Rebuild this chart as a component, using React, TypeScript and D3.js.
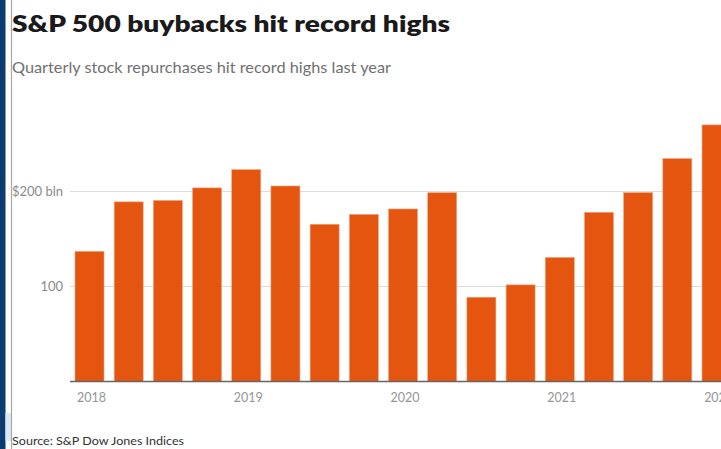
import React from "react";
import * as d3 from "d3";

const quarters = [
  "2017 Q4", "2018 Q1", "2018 Q2", "2018 Q3", "2018 Q4",
  "2019 Q1", "2019 Q2", "2019 Q3", "2019 Q4",
  "2020 Q1", "2020 Q2", "2020 Q3", "2020 Q4",
  "2021 Q1", "2021 Q2", "2021 Q3", "2021 Q4",
];
const buybacks = [
  137.0, 189.1, 190.6, 203.8, 223.0,
  205.8, 165.5, 175.9, 181.6,
  198.7, 88.7, 101.7, 130.6,
  178.1, 198.8, 234.6, 270.1,
];
const yTicks = [100, 200];
const yTickLabels = ["100", "$200 bln"];
const yearTicks = ["2018 Q1", "2019 Q1", "2020 Q1", "2021 Q1", "2022 Q1"];
const yearLabels = ["2018", "2019", "2020", "2021", "2022"];

const W = 721;
const H = 449;
const FONT = "Lato, 'Open Sans', sans-serif";

export default function App() {
  const allQuarters = [...quarters, "2022 Q1"];
  const x = d3
    .scaleBand<string>()
    .domain(allQuarters)
    .range([69.9, 69.9 + 39.19 * 18])
    .paddingInner(0.26)
    .paddingOuter(0.13);
  const y = d3.scaleLinear().domain([0, 200]).range([381.5, 191.5]);
  const gap = x.step() - x.bandwidth();

  return (
    <svg
      width={W}
      height={H}
      style={{ position: "absolute", left: 0, top: 0, background: "#fff" }}
    >
      <rect x={0} y={0} width={W} height={H} fill="#fff" />
      {/* left frame */}
      <rect x={0} y={0} width={5.5} height={H} fill="#0b3b70" />
      <rect x={5.5} y={413} width={5.5} height={28} fill="#dbe8f6" />
      <line x1={11.5} x2={11.5} y1={0} y2={H} stroke="#a8a8a8" strokeWidth={1.2} />

      <text
        x={12}
        y={32}
        fontFamily={FONT}
        fontWeight={800}
        fontSize={23}
        fill="#1a1a1a"
        textLength={438}
        lengthAdjust="spacingAndGlyphs"
      >
        S&amp;P 500 buybacks hit record highs
      </text>
      <text
        x={12}
        y={73}
        fontFamily={FONT}
        fontWeight={400}
        fontSize={16}
        fill="#707070"
        textLength={379}
        lengthAdjust="spacingAndGlyphs"
      >
        Quarterly stock repurchases hit record highs last year
      </text>

      {/* gridlines */}
      {yTicks.map((t, i) => (
        <g key={t}>
          <line x1={70} x2={W} y1={y(t)} y2={y(t)} stroke="#dcdcdc" strokeWidth={1} />
          <text
            x={63}
            y={y(t)}
            dy="0.35em"
            textAnchor="end"
            fontFamily={FONT}
            fontSize={13}
            fill="#8a8a8a"
          >
            {yTickLabels[i]}
          </text>
        </g>
      ))}

      {/* bars */}
      {quarters.map((q, i) => (
        <rect
          key={q}
          x={x(q)}
          y={y(buybacks[i])}
          width={x.bandwidth()}
          height={y(0) - y(buybacks[i])}
          fill="#e4550f"
          stroke="#f4a27c"
          strokeWidth={0.6}
        />
      ))}

      {/* baseline */}
      <line x1={70} x2={W} y1={y(0)} y2={y(0)} stroke="#666" strokeWidth={1.5} />

      {yearTicks.map((q, i) => (
        <text
          key={q}
          x={(x(q) as number) - gap / 2 - 3}
          y={402}
          textAnchor="end"
          fontFamily={FONT}
          fontSize={12.5}
          fill="#959595"
        >
          {yearLabels[i]}
        </text>
      ))}

      <text
        x={12}
        y={445}
        fontFamily={FONT}
        fontSize={12}
        fill="#333"
        textLength={172}
        lengthAdjust="spacingAndGlyphs"
      >
        Source: S&amp;P Dow Jones Indices
      </text>
    </svg>
  );
}
